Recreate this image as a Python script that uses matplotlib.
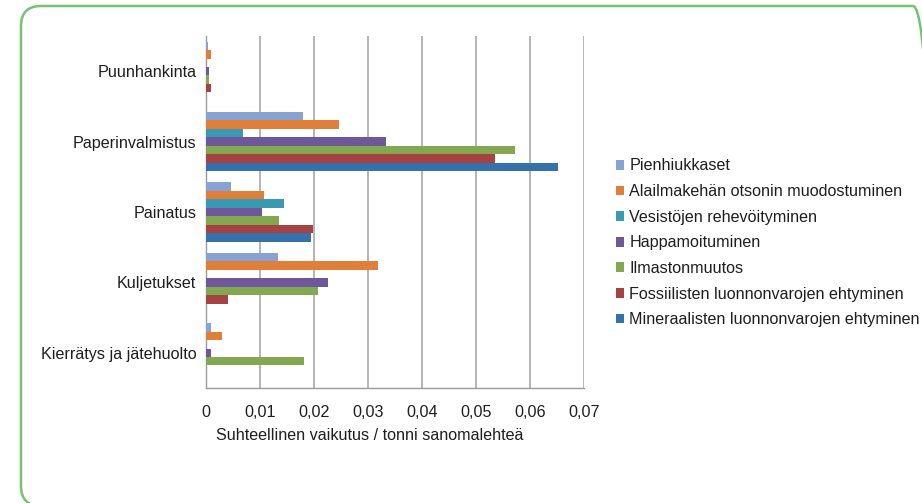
import matplotlib.pyplot as plt
import numpy as np
from matplotlib.patches import FancyBboxPatch, Patch
from matplotlib.transforms import IdentityTransform

plt.rcParams['font.family'] = ['Liberation Sans', 'DejaVu Sans']

categories = ['Puunhankinta', 'Paperinvalmistus', 'Painatus', 'Kuljetukset',
              'Kierrätys ja jätehuolto']
series = ['Pienhiukkaset',
          'Alailmakehän otsonin muodostuminen',
          'Vesistöjen rehevöityminen',
          'Happamoituminen',
          'Ilmastonmuutos',
          'Fossiilisten luonnonvarojen ehtyminen',
          'Mineraalisten luonnonvarojen ehtyminen']
# one list per impact category, values in category order
pienhiukkaset = [0.0004, 0.0179, 0.0047, 0.0133, 0.0009]
otsoni = [0.0009, 0.0247, 0.0107, 0.0318, 0.0030]
rehevoityminen = [0.0, 0.0069, 0.0145, 0.0, 0.0]
happamoituminen = [0.0006, 0.0333, 0.0103, 0.0226, 0.0010]
ilmasto = [0.0005, 0.0572, 0.0135, 0.0207, 0.0181]
fossiili = [0.0009, 0.0536, 0.0198, 0.0040, 0.0]
mineraali = [0.0, 0.0651, 0.0195, 0.0, 0.0]
xticks = [0, 0.01, 0.02, 0.03, 0.04, 0.05, 0.06, 0.07]
xticklabels = ['0', '0,01', '0,02', '0,03', '0,04', '0,05', '0,06', '0,07']

values = [pienhiukkaset, otsoni, rehevoityminen, happamoituminen,
          ilmasto, fossiili, mineraali]
colors = ['#86a3d3', '#df7f3a', '#3a99b2', '#6e5899', '#84a852', '#a74243', '#3571aa']
TEXT = '#1e1e1e'
FS = 11.6

fig = plt.figure(figsize=(9.22, 5.03), dpi=100)

# green rounded frame round the whole chart (pixel coords, origin bottom left)
frame = FancyBboxPatch((21, -3), 912, 500,
                       boxstyle='round,pad=0,rounding_size=20',
                       transform=IdentityTransform(), facecolor='none',
                       edgecolor='#74c46f', linewidth=1.8, clip_on=False)
fig.patches.append(frame)

ax = fig.add_axes([206 / 922, 1 - 388 / 503, 378 / 922, 352 / 503])

y = np.arange(len(categories))
h = 0.12
for j, (vals, col) in enumerate(zip(values, colors)):
    ax.barh(y + (j - 3) * h, vals, height=h, color=col, label=series[j], zorder=3)

ax.set_ylim(len(categories) - 0.5, -0.5)
ax.set_xlim(0, 0.07)
ax.set_xticks(xticks)
ax.set_xticklabels(xticklabels)
ax.set_yticks(y)
ax.set_yticklabels(categories)
ax.tick_params(axis='x', length=0, pad=12, labelsize=FS, labelcolor=TEXT)
ax.tick_params(axis='y', length=0, pad=7, labelsize=FS, labelcolor=TEXT)
ax.grid(axis='x', color='#a8a8a8', linewidth=1.2, zorder=0)
for s in ['top', 'right']:
    ax.spines[s].set_visible(False)
for s in ['left', 'bottom']:
    ax.spines[s].set_color('#9a9a9a')
    ax.spines[s].set_linewidth(1.0)

ax.set_xlabel('Suhteellinen vaikutus / tonni sanomalehteä', fontsize=FS, color=TEXT)
ax.xaxis.set_label_coords(0.434, -0.115)

handles = [Patch(facecolor=c) for c in colors]
fig.legend(handles, series, loc='upper left', bbox_to_anchor=(601 / 922, 1 - 144 / 503),
           frameon=False, fontsize=FS, handlelength=0.55, handleheight=0.55,
           handletextpad=0.3, labelspacing=0.66, labelcolor=TEXT)

fig.savefig('out.png', dpi=100)
